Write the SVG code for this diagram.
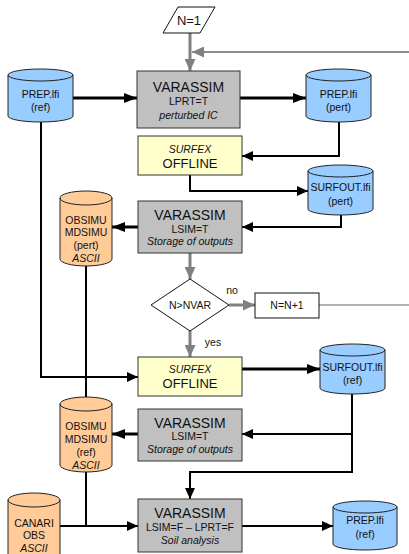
<svg xmlns="http://www.w3.org/2000/svg" width="409" height="554" viewBox="0 0 409 554">
<style>
text{font-family:"Liberation Sans",Arial,sans-serif;fill:#111;text-anchor:middle}
.big{font-size:14px}
.mid{font-size:13px}
.sm{font-size:10.5px}
.it{font-style:italic}
.box{fill:#c0c0c0;stroke:#333;stroke-width:1}
.yel{fill:#ffffcc;stroke:#333;stroke-width:1}
.wht{fill:#fff;stroke:#111;stroke-width:1}
.blue{fill:#99ccff;stroke:#222;stroke-width:1}
.org{fill:#ffcc99;stroke:#222;stroke-width:1}
.top{fill:none;stroke:#222;stroke-width:1}
.k2{fill:none;stroke:#000;stroke-width:2}
.k3{fill:none;stroke:#000;stroke-width:3}
.g3{fill:none;stroke:#808080;stroke-width:3}
.g2{fill:none;stroke:#8c8c8c;stroke-width:2}
</style>
<defs>
<marker id="ak" markerUnits="userSpaceOnUse" markerWidth="12" markerHeight="10" refX="11" refY="5" orient="auto"><path d="M0,0 L11,5 L0,10 Z" fill="#000"/></marker>
<marker id="ak3" markerUnits="userSpaceOnUse" markerWidth="13" markerHeight="10" refX="13" refY="5" orient="auto"><path d="M0,0 L13,5 L0,10 Z" fill="#000"/></marker>
<marker id="ag" markerUnits="userSpaceOnUse" markerWidth="12" markerHeight="11" refX="12" refY="5.5" orient="auto"><path d="M0,0 L12,5.5 L0,11 Z" fill="#808080"/></marker>
</defs>

<g id="connectors">
<path class="g3" d="M190,33 V71" marker-end="url(#ag)"/>
<path class="g2" d="M412,52 H192" marker-end="url(#ag)"/>
<path d="M319,305 H412" fill="none" stroke="#999" stroke-width="1.5"/>
<path class="k3" d="M73,98 H137" marker-end="url(#ak3)"/>
<path class="k3" d="M240,98 H306" marker-end="url(#ak3)"/>
<path class="k2" d="M339,122 V156 H242" marker-end="url(#ak)"/>
<path class="k2" d="M190,175 V191 H308" marker-end="url(#ak)"/>
<path class="k2" d="M341,215 V227 H242" marker-end="url(#ak)"/>
<path class="k3" d="M138,227 H112" marker-end="url(#ak3)"/>
<path class="g3" d="M190,253 V279" marker-end="url(#ag)"/>
<path class="g3" d="M229,305 H255" marker-end="url(#ag)"/>
<path class="g3" d="M190,331 V357" marker-end="url(#ag)"/>
<path class="k2" d="M41,122 V377 H138" marker-end="url(#ak)"/>
<path class="k2" d="M86,266 V400"/>
<path class="k3" d="M242,369 H320" marker-end="url(#ak3)"/>
<path class="k2" d="M352,394 V472 H190 V499" marker-end="url(#ak)"/>
<path class="k2" d="M352,434 H242" marker-end="url(#ak)"/>
<path class="k3" d="M138,434 H112" marker-end="url(#ak3)"/>
<path class="k2" d="M86,472 V526"/>
<path class="k2" d="M60,526 H138" marker-end="url(#ak)"/>
<path class="k2" d="M242,526 H333" marker-end="url(#ak)"/>
<text x="232" y="294" class="sm">no</text>
<text x="213" y="346" class="sm">yes</text>
</g>

<g id="n1">
<polygon class="wht" points="178,7 215,7 200,33 163,33"/>
<text x="189" y="25" class="mid">N=1</text>
</g>

<g id="prep_ref">
<path class="blue" d="M8,75 A32.5,6 0 0 1 73,75 V116 A32.5,6 0 0 1 8,116 Z"/>
<path class="top" d="M8,75 A32.5,6 0 0 0 73,75"/>
<text x="40.5" y="98" class="sm">PREP.lfi</text>
<text x="40.5" y="111" class="sm">(ref)</text>
</g>

<g id="varassim1">
<rect class="box" x="137" y="71" width="103" height="57"/>
<text x="188.5" y="92" class="big">VARASSIM</text>
<text x="188.5" y="105" class="sm">LPRT=T</text>
<text x="188.5" y="119" class="sm it">perturbed IC</text>
</g>

<g id="prep_pert">
<path class="blue" d="M306,75 A32.5,6 0 0 1 371,75 V116 A32.5,6 0 0 1 306,116 Z"/>
<path class="top" d="M306,75 A32.5,6 0 0 0 371,75"/>
<text x="338.5" y="98" class="sm">PREP.lfi</text>
<text x="338.5" y="111" class="sm">(pert)</text>
</g>

<g id="surfex1">
<rect class="yel" x="138" y="136" width="104" height="39"/>
<text x="190" y="153" class="sm it">SURFEX</text>
<text x="190" y="168" class="mid">OFFLINE</text>
</g>

<g id="surfout_pert">
<path class="blue" d="M308,171 A32.5,6 0 0 1 373,171 V209 A32.5,6 0 0 1 308,209 Z"/>
<path class="top" d="M308,171 A32.5,6 0 0 0 373,171"/>
<text x="340.5" y="191" class="sm">SURFOUT.lfi</text>
<text x="340.5" y="205" class="sm">(pert)</text>
</g>

<g id="varassim2">
<rect class="box" x="138" y="201" width="104" height="52"/>
<text x="190" y="220" class="big">VARASSIM</text>
<text x="190" y="233" class="sm">LSIM=T</text>
<text x="190" y="245" class="sm it">Storage of outputs</text>
</g>

<g id="obsimu_pert">
<path class="org" d="M60,198 A26,7 0 0 1 112,198 V259 A26,7 0 0 1 60,259 Z"/>
<path class="top" d="M60,198 A26,7 0 0 0 112,198"/>
<text x="86" y="224" class="sm">OBSIMU</text>
<text x="86" y="236" class="sm">MDSIMU</text>
<text x="86" y="249" class="sm">(pert)</text>
<text x="86" y="262" class="sm it">ASCII</text>
</g>

<g id="decision">
<polygon class="wht" points="190,279 229,305 190,331 151,305"/>
<text x="190" y="309" class="sm">N&gt;NVAR</text>
</g>

<g id="incr">
<rect class="wht" x="255" y="293" width="64" height="25"/>
<text x="287" y="309" class="sm">N=N+1</text>
</g>

<g id="surfex2">
<rect class="yel" x="138" y="357" width="104" height="39"/>
<text x="190" y="373" class="sm it">SURFEX</text>
<text x="190" y="388" class="mid">OFFLINE</text>
</g>

<g id="surfout_ref">
<path class="blue" d="M320,350 A32.5,6 0 0 1 385,350 V388 A32.5,6 0 0 1 320,388 Z"/>
<path class="top" d="M320,350 A32.5,6 0 0 0 385,350"/>
<text x="352.5" y="371" class="sm">SURFOUT.lfi</text>
<text x="352.5" y="384" class="sm">(ref)</text>
</g>

<g id="obsimu_ref">
<path class="org" d="M60,404 A26,7 0 0 1 112,404 V465 A26,7 0 0 1 60,465 Z"/>
<path class="top" d="M60,404 A26,7 0 0 0 112,404"/>
<text x="86" y="430" class="sm">OBSIMU</text>
<text x="86" y="443" class="sm">MDSIMU</text>
<text x="86" y="456" class="sm">(ref)</text>
<text x="86" y="469" class="sm it">ASCII</text>
</g>

<g id="varassim3">
<rect class="box" x="138" y="409" width="104" height="52"/>
<text x="190" y="428" class="big">VARASSIM</text>
<text x="190" y="440" class="sm">LSIM=T</text>
<text x="190" y="453" class="sm it">Storage of outputs</text>
</g>

<g id="canari">
<path class="org" d="M8,500 A26,7 0 0 1 60,500 V560 A26,7 0 0 1 8,560 Z"/>
<path class="top" d="M8,500 A26,7 0 0 0 60,500"/>
<text x="34" y="527" class="sm">CANARI</text>
<text x="34" y="539" class="sm">OBS</text>
<text x="34" y="552" class="sm it">ASCII</text>
</g>

<g id="varassim4">
<rect class="box" x="138" y="499" width="104" height="53"/>
<text x="190" y="518" class="big">VARASSIM</text>
<text x="190" y="531" class="sm">LSIM=F – LPRT=F</text>
<text x="190" y="544" class="sm it">Soil analysis</text>
</g>

<g id="prep_ref2">
<path class="blue" d="M333,507 A32,6 0 0 1 397,507 V544 A32,6 0 0 1 333,544 Z"/>
<path class="top" d="M333,507 A32,6 0 0 0 397,507"/>
<text x="365" y="524" class="sm">PREP.lfi</text>
<text x="365" y="538" class="sm">(ref)</text>
</g>
</svg>
